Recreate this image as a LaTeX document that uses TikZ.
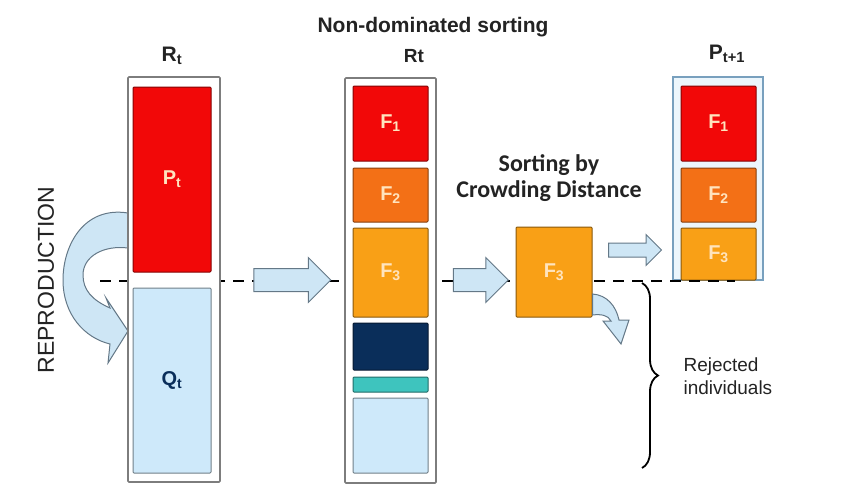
\documentclass[tikz,border=0pt]{standalone}
\usepackage{fontspec}
\setmainfont{Liberation Sans}
\newfontfamily\calibrifont{Carlito}
\usetikzlibrary{shapes.arrows,decorations.pathreplacing}

\definecolor{redF}{RGB}{242,8,8}
\definecolor{orangeF}{RGB}{243,112,22}
\definecolor{amberF}{RGB}{249,160,22}
\definecolor{navyF}{RGB}{10,46,90}
\definecolor{tealF}{RGB}{62,196,190}
\definecolor{paleF}{RGB}{206,233,250}
\definecolor{arrowfill}{RGB}{206,230,245}
\definecolor{arrowline}{RGB}{100,120,135}
\definecolor{boxgray}{RGB}{125,125,125}
\definecolor{popline}{RGB}{120,160,190}
\definecolor{popfill}{RGB}{236,246,252}
\definecolor{cream}{RGB}{255,228,190}
\definecolor{inkgray}{RGB}{35,35,35}

\tikzset{
  outerbox/.style={draw=boxgray, line width=1.6pt, fill=white, rounded corners=1pt},
  block/.style={draw=#1!55!black, fill=#1, line width=1pt, rounded corners=1pt,
    inner sep=0pt, text=cream, font=\bfseries\fontsize{20}{22}\selectfont},
  fatarrow/.style={single arrow, draw=arrowline, fill=arrowfill, line width=1pt,
    inner sep=11pt, single arrow head extend=11pt, minimum height=77pt},
  smallarrow/.style={single arrow, draw=arrowline, fill=arrowfill, line width=1pt,
    inner sep=6.5pt, single arrow head extend=8.5pt, minimum height=53pt},
  heading/.style={text=inkgray, font=\bfseries\fontsize{21}{23}\selectfont},
}

\begin{document}
\begin{tikzpicture}[x=1pt, y=-1pt]
\useasboundingbox (0,0) rectangle (850,501);

% Population P(t+1)
\draw[draw=popline, fill=popfill, line width=1.6pt] (673,77) rectangle (763,280);
\node[block=redF, minimum width=75pt, minimum height=75pt] (p1) at (718.5,123.5) {F\textsubscript{1}};
\node[block=orangeF, minimum width=75pt, minimum height=54pt] (p2) at (718.5,195) {F\textsubscript{2}};
\node[block=amberF, minimum width=75pt, minimum height=52pt] (p3) at (718.5,254) {F\textsubscript{3}};
\node[heading] (ptnext) at (727,54) {P\textsubscript{t+1}};

% cut line
\draw[line width=2.8pt, dash pattern=on 11pt off 8pt] (100,281) -- (735,281);

% Reproduction
\draw[arrowline, fill=arrowfill, line width=1pt]
  (128,213) .. controls (84,206) and (63,245) .. (63,280)
  .. controls (63,315) and (85,338) .. (110,344)
  -- (108,363) -- (128,331) -- (106,298) -- (110,308)
  .. controls (92,300) and (83,290) .. (83,275)
  .. controls (83,256) and (104,245) .. (128,248);
\node[rotate=90, text=inkgray, font=\fontsize{23}{25}\selectfont] (repro) at (46,280) {REPRODUCTION};

% R(t)
\draw[outerbox] (128,77) rectangle (220,482);
\node[block=redF, minimum width=78pt, minimum height=185pt] (pt) at (172,179.5) {P\textsubscript{t}};
\node[block=paleF, text=navyF, minimum width=78pt, minimum height=185pt] (qt) at (172,380.5) {Q\textsubscript{t}};
\node[heading] (rt) at (172,56) {R\textsubscript{t}};

% Non-dominated sorting
\draw[outerbox] (345,78) rectangle (436,483);
\node[block=redF, minimum width=75pt, minimum height=75pt] (f1) at (390.5,123.5) {F\textsubscript{1}};
\node[block=orangeF, minimum width=75pt, minimum height=54pt] (f2) at (390.5,195) {F\textsubscript{2}};
\node[block=amberF, minimum width=75pt, minimum height=89pt] (f3) at (390.5,272.5) {F\textsubscript{3}};
\node[block=navyF, minimum width=75pt, minimum height=47pt] (f4) at (390.5,346.5) {};
\node[block=tealF, minimum width=75pt, minimum height=15pt] (f5) at (390.5,384.5) {};
\node[block=paleF, minimum width=75pt, minimum height=75pt] (f6) at (390.5,435.5) {};
\node[heading] (title) at (433,27) {Non-dominated sorting};
\node[heading, font=\bfseries\fontsize{19}{21}\selectfont] (rt2) at (414,56) {Rt};

% Crowding distance
\node[block=amberF, minimum width=76pt, minimum height=90pt] (f3cd) at (554,272) {F\textsubscript{3}};
\node[text=inkgray, font=\calibrifont\bfseries\fontsize{24}{26}\selectfont, align=center] (crowd) at (549,178)
  {Sorting by\\Crowding Distance};

% arrows
\node[fatarrow] (a1) at (286.5,280) {};
\node[fatarrow, minimum height=55pt] (a2) at (475,280) {};
\node[smallarrow] (a3) at (631.5,250) {};

% rejected part of F3
\draw[arrowline, fill=arrowfill, line width=1pt]
  (f3cd.east |- 0,294) .. controls (607,295) and (616,306) .. (619,320)
  -- (629,320) -- (621,344) -- (603,321) -- (611,321)
  .. controls (608,315) and (601,314) .. (f3cd.east |- 0,315) -- cycle;

% Rejected individuals
\draw[decorate, decoration={brace, amplitude=16pt}, line width=1.8pt] (642,283) -- (642,468);
\node[text=inkgray, font=\fontsize{19}{23}\selectfont, align=left, anchor=west] (rej) at (680,376)
  {Rejected\\individuals};

\end{tikzpicture}
\end{document}
